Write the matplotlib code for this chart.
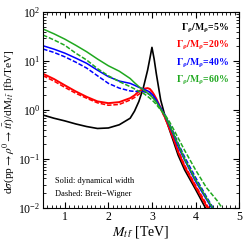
import numpy as np
import matplotlib
matplotlib.use('Agg')
import matplotlib.pyplot as plt
from matplotlib.ticker import LogLocator, MultipleLocator, NullFormatter

plt.rcParams['font.family'] = ['Liberation Serif', 'DejaVu Serif']
plt.rcParams['mathtext.fontset'] = 'stix'

# invariant mass grid [TeV]
m = [0.5, 0.75, 1.0, 1.25, 1.5, 1.75, 2.0, 2.25, 2.5, 2.6, 2.7, 2.8, 2.9, 2.95,
     3.0, 3.05, 3.1, 3.2, 3.3, 3.4, 3.5, 3.6, 3.75, 4.0, 4.25, 4.5, 4.75]

# Gamma/M = 5% (solid only visible)
w5 = [0.79, 0.68, 0.6, 0.52, 0.46, 0.42, 0.43, 0.5, 0.68, 0.95, 1.5, 2.8, 6.5, 11,
      19, 11, 5.5, 1.6, 0.75, 0.4, 0.22, 0.12, 0.06, 0.024, 0.0092, 0.0035, 0.0014]
# Gamma/M = 20%
w20_dyn = [5.5, 4.3, 3.2, 2.4, 1.86, 1.5, 1.38, 1.45, 1.75, 2.0, 2.4, 2.7, 2.8, 2.7,
           2.4, 2.05, 1.7, 1.1, 0.7, 0.42, 0.25, 0.14, 0.07, 0.027, 0.011, 0.0045, 0.0019]
w20_bw = [5.0, 3.9, 2.9, 2.2, 1.74, 1.4, 1.25, 1.3, 1.6, 1.8, 2.1, 2.4, 2.45, 2.35,
          2.1, 1.85, 1.55, 1.05, 0.68, 0.42, 0.26, 0.15, 0.075, 0.029, 0.012, 0.005, 0.0021]
# Gamma/M = 40%
w40_dyn = [20.5, 17.5, 14.5, 11.5, 9.0, 6.5, 4.8, 3.9, 3.5, 3.2, 2.9, 2.7, 2.45, 2.3,
           2.1, 1.85, 1.6, 1.1, 0.75, 0.48, 0.3, 0.18, 0.095, 0.035, 0.015, 0.0065, 0.0028]
w40_bw = [17.6, 15.0, 12.2, 9.5, 7.2, 5.0, 3.5, 2.8, 2.45, 2.4, 2.4, 2.4, 2.2, 2.05,
          1.9, 1.7, 1.5, 1.1, 0.78, 0.52, 0.34, 0.21, 0.11, 0.042, 0.017, 0.0072, 0.0032]
# Gamma/M = 60%
w60_dyn = [45, 36, 28, 21, 15.5, 11, 8.0, 6.2, 4.4, 3.6, 3.0, 2.6, 2.2, 2.05,
           1.85, 1.65, 1.45, 1.05, 0.75, 0.5, 0.32, 0.2, 0.1, 0.038, 0.016, 0.007, 0.003]
w60_bw = [34, 27, 21, 14.5, 10.5, 7.0, 5.0, 3.8, 3.0, 2.7, 2.4, 2.2, 1.9, 1.75,
          1.6, 1.45, 1.3, 1.0, 0.8, 0.58, 0.4, 0.27, 0.15, 0.06, 0.026, 0.014, 0.0065]

green = '#1fa81f'

fig = plt.figure(figsize=(2.43, 2.41), dpi=100)
ax = fig.add_axes([0.177, 0.137, 0.807, 0.813])

ax.plot(m, w5, color='black', lw=1.2)
ax.plot(m, w20_dyn, color='red', lw=1.4)
ax.plot(m, w20_bw, color='red', lw=1.1, ls=(0, (3, 1.2)))
ax.plot(m, w40_dyn, color='blue', lw=1.1)
ax.plot(m, w40_bw, color='blue', lw=1.1, ls=(0, (3, 1.2)))
ax.plot(m, w60_dyn, color=green, lw=1.1)
ax.plot(m, w60_bw, color=green, lw=1.1, ls=(0, (3, 1.2)))

ax.set_yscale('log')
ax.set_xlim(0.5, 5)
ax.set_ylim(1e-2, 1e2)
ax.xaxis.set_major_locator(MultipleLocator(1))
ax.xaxis.set_minor_locator(MultipleLocator(0.1))
ax.yaxis.set_major_locator(LogLocator(base=10, numticks=10))
ax.yaxis.set_minor_locator(LogLocator(base=10, subs=np.arange(2, 10), numticks=10))
ax.yaxis.set_minor_formatter(NullFormatter())
ax.tick_params(which='both', direction='in', top=True, right=True, labelsize=8.5, pad=2)
ax.tick_params(which='major', length=4)
ax.tick_params(which='minor', length=2)

ax.set_xlabel(r'$M_{t\,\bar{t}}$ [TeV]', fontsize=10, labelpad=1)
fig.text(0.036, 0.494,
         r'd$\sigma$(pp$\rightarrow\rho^0\rightarrow t\bar{t}$)/dM$_{t\,\bar{t}}$ [fb/TeV]',
         fontsize=8.2, rotation=90, ha='center', va='center')

labels = [('5%', 'black'), ('20%', 'red'), ('40%', 'blue'), ('60%', green)]
for i, (lab, c) in enumerate(labels):
    ax.text(0.95, 0.915 - i * 0.088, r'$\mathbf{\Gamma_\rho/M_\rho}$' + '=' + lab,
            color=c, fontsize=7, fontweight='bold', ha='right', va='center',
            transform=ax.transAxes)

ax.text(0.06, 0.125, 'Solid: dynamical width', fontsize=6, transform=ax.transAxes)
ax.text(0.06, 0.06, 'Dashed: Breit\u2212Wigner', fontsize=6, transform=ax.transAxes)

fig.savefig('out.png', dpi=100)
